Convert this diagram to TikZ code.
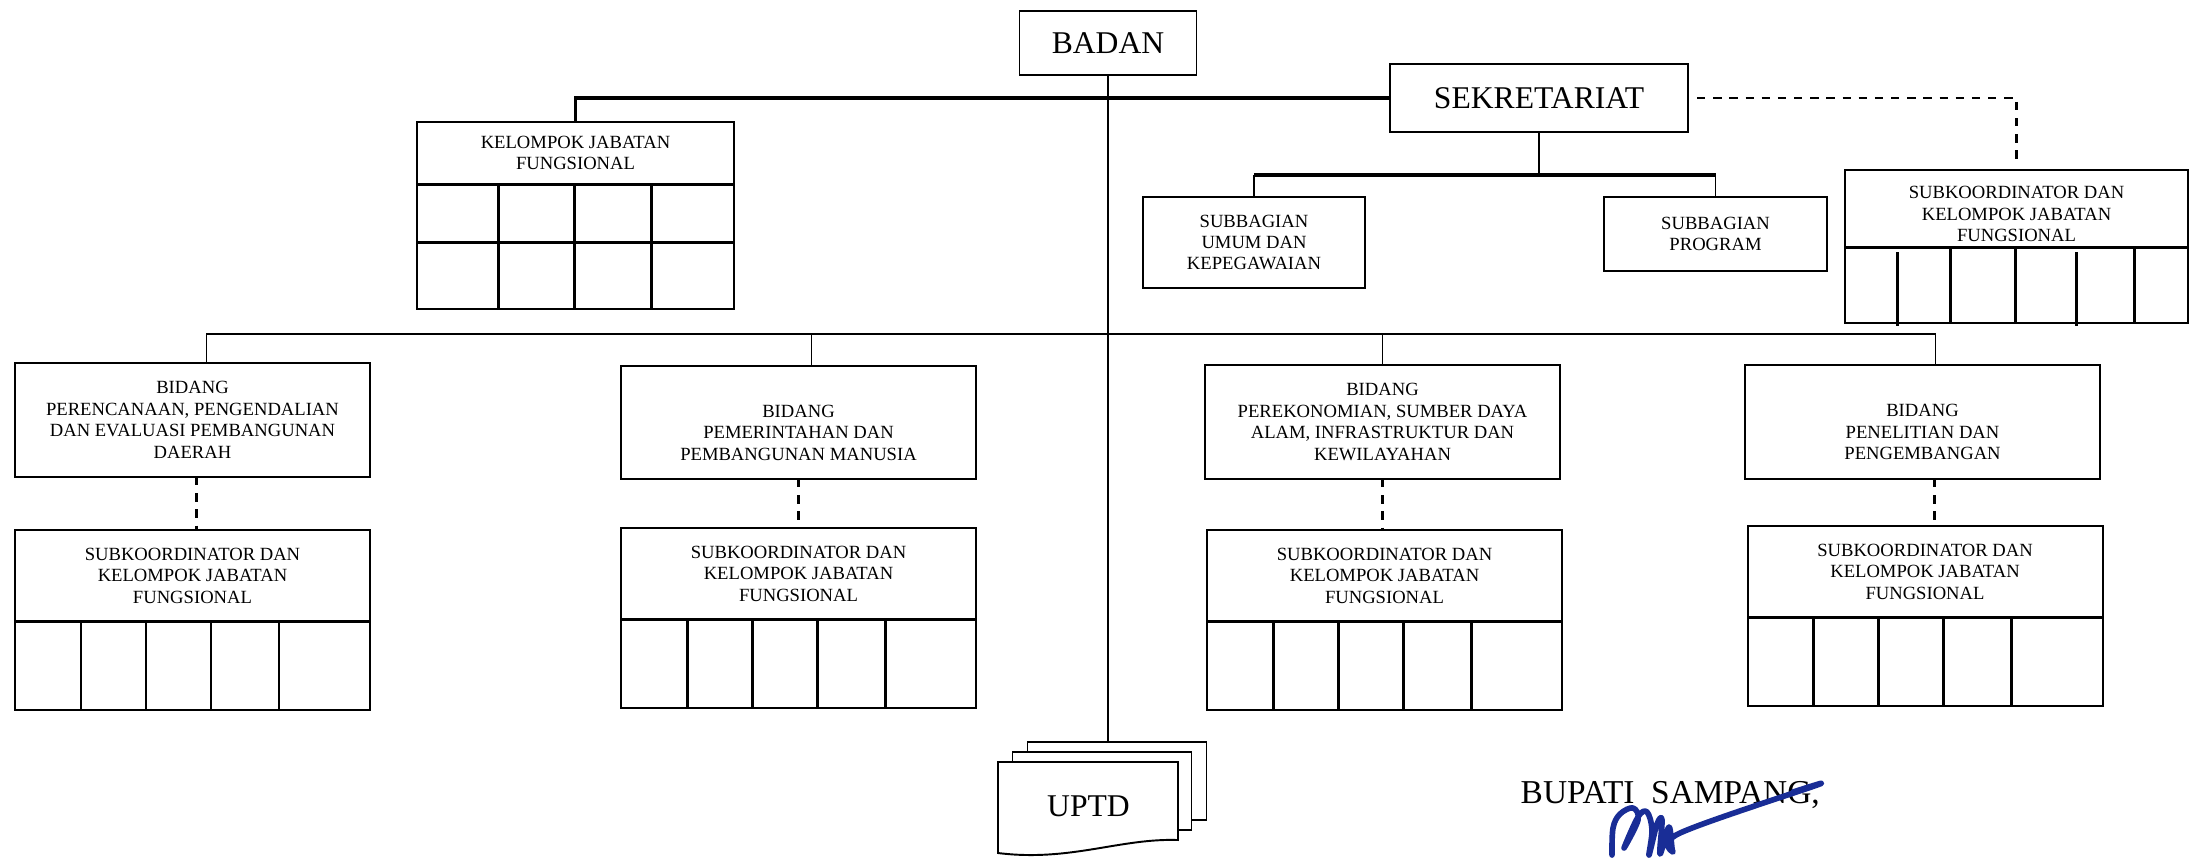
\documentclass[tikz,border=0pt]{standalone}
\usepackage{fontspec}
\setmainfont{Liberation Serif}
\usepackage{tikz}
\usetikzlibrary{positioning}
\definecolor{signblue}{RGB}{25,45,150}

\begin{document}
\begin{tikzpicture}[
    orgbox/.style={draw, line width=0.55pt, fill=white, inner sep=1pt, outer sep=0pt, align=center},
    bigbox/.style={orgbox, font=\fontsize{9}{11}\selectfont},
    unitbox/.style={orgbox, font=\fontsize{5.3}{6.1}\selectfont, minimum width=3.55cm},
    cellrow/.style={draw, line width=0.55pt, inner sep=0pt, outer sep=0pt},
    cellline/.style={line width=0.85pt},
    linkline/.style={line width=0.5pt},
    mainlink/.style={line width=1.1pt},
    dashlink/.style={line width=0.6pt, dash pattern=on 2.4pt off 2.2pt},
    pagebox/.style={draw, fill=white, line width=0.55pt, minimum width=1.79cm, minimum height=0.78cm, inner sep=0pt, outer sep=0pt},
    signline/.style={draw=signblue, line width=1.6pt, line cap=round, line join=round}
]
    \useasboundingbox (0,0) rectangle (21.98,-8.57);

    % Top level
    \node[bigbox, minimum width=1.77cm, minimum height=0.64cm] (badan) at (11.08,-0.43) {BADAN};
    \node[bigbox, minimum width=2.98cm, minimum height=0.68cm] (sek) at (15.39,-0.98) {SEKRETARIAT};

    % Sekretariat and its units
    \node[unitbox, minimum width=2.22cm, minimum height=0.91cm] (umum) at (12.54,-2.425) {SUBBAGIAN\\UMUM DAN\\KEPEGAWAIAN};
    \node[unitbox, minimum width=2.23cm, minimum height=0.74cm] (prog) at (17.155,-2.34) {SUBBAGIAN\\PROGRAM};
    \node[unitbox, minimum width=3.43cm, minimum height=0.77cm] (subsek) at (20.165,-2.085) {\rule{0pt}{0.24cm}SUBKOORDINATOR DAN\\KELOMPOK JABATAN\\FUNGSIONAL};
    \node[cellrow, minimum width=3.43cm, minimum height=0.76cm, below=0pt of subsek] (cellsek) {};

    % Kelompok jabatan fungsional
    \node[unitbox, minimum width=3.17cm, minimum height=0.62cm] (kjf) at (5.755,-1.53) {KELOMPOK JABATAN\\FUNGSIONAL};
    \node[cellrow, minimum width=3.17cm, minimum height=1.25cm, below=0pt of kjf] (cellkjf) {};

    % Bidang
    \node[unitbox, minimum height=1.14cm] (b1) at (1.925,-4.20) {BIDANG\\PERENCANAAN, PENGENDALIAN\\DAN EVALUASI PEMBANGUNAN\\DAERAH};
    \node[unitbox, minimum height=1.13cm] (b2) at (7.985,-4.225) {\rule{0pt}{0.33cm}BIDANG\\PEMERINTAHAN DAN\\PEMBANGUNAN MANUSIA};
    \node[unitbox, minimum height=1.14cm] (b3) at (13.825,-4.22) {BIDANG\\PEREKONOMIAN, SUMBER DAYA\\ALAM, INFRASTRUKTUR DAN\\KEWILAYAHAN};
    \node[unitbox, minimum height=1.14cm] (b4) at (19.225,-4.22) {\rule{0pt}{0.33cm}BIDANG\\PENELITIAN DAN\\PENGEMBANGAN};

    % Subkoordinator under each bidang
    \node[unitbox, minimum height=0.91cm] (s1) at (1.925,-5.755) {SUBKOORDINATOR DAN\\KELOMPOK JABATAN\\FUNGSIONAL};
    \node[unitbox, minimum height=0.91cm] (s2) at (7.985,-5.735) {SUBKOORDINATOR DAN\\KELOMPOK JABATAN\\FUNGSIONAL};
    \node[unitbox, minimum height=0.91cm] (s3) at (13.845,-5.755) {SUBKOORDINATOR DAN\\KELOMPOK JABATAN\\FUNGSIONAL};
    \node[unitbox, minimum height=0.91cm] (s4) at (19.25,-5.715) {SUBKOORDINATOR DAN\\KELOMPOK JABATAN\\FUNGSIONAL};
    \foreach \i in {1,...,4}
        \node[cellrow, minimum width=3.55cm, minimum height=0.89cm, below=0pt of s\i] (cells\i) {};

    % Cells
    \foreach \i in {1,...,4} {
        \draw[cellline] (cells\i.north west) -- (cells\i.north east);
        \foreach \d in {0.66,1.31,1.96,2.64}
            \draw[cellline] ([xshift=\d cm]cells\i.north west) -- ([xshift=\d cm]cells\i.south west);
    }
    \draw[cellline] (cellkjf.north west) -- (cellkjf.north east);
    \draw[cellline] ([yshift=-0.58cm]cellkjf.north west) -- ([yshift=-0.58cm]cellkjf.north east);
    \foreach \d in {0.81,1.57,2.34}
        \draw[cellline] ([xshift=\d cm]cellkjf.north west) -- ([xshift=\d cm]cellkjf.south west);
    \draw[cellline] (cellsek.north west) -- (cellsek.north east);
    \foreach \d in {1.05,1.70,2.89}
        \draw[cellline] ([xshift=\d cm]cellsek.north west) -- ([xshift=\d cm]cellsek.south west);
    \foreach \d in {0.52,2.31}
        \draw[cellline] ([xshift=\d cm, yshift=-0.05cm]cellsek.north west) -- ([xshift=\d cm, yshift=-0.03cm]cellsek.south west);

    % UPTD stack
    \node[pagebox] (back) at (11.17,-7.81) {};
    \node[pagebox] (mid) at (11.02,-7.91) {};
    \filldraw[fill=white, line width=0.55pt] (9.98,-7.62) -- (11.78,-7.62) -- (11.78,-8.40)
        .. controls (11.2,-8.38) and (10.7,-8.62) .. (9.98,-8.53) -- cycle;
    \node[font=\fontsize{9}{11}\selectfont] (uptd) at (10.885,-8.06) {UPTD};

    % Lines
    \draw[linkline] (badan.south) -- (badan.south |- back.north);
    \draw[mainlink] (sek.west) -| (kjf.north);
    \draw[linkline] (sek.south) -- ++(0,-0.43) coordinate (sekbus);
    \draw[mainlink] (umum.north |- sekbus) -- (prog.north |- sekbus);
    \draw[linkline] (umum.north) -- (umum.north |- sekbus);
    \draw[linkline] (prog.north) -- (prog.north |- sekbus);
    \draw[dashlink] ([xshift=0.09cm]sek.east) -| ([yshift=0.06cm]subsek.north);

    \coordinate (bidbus) at (11.09,-3.34);
    \draw[linkline] ([xshift=0.14cm]b1.north) |- ([xshift=0.13cm]b4.north |- bidbus) -- ([xshift=0.13cm]b4.north);
    \draw[linkline] ([xshift=0.13cm]b2.north) -- ([xshift=0.13cm]b2.north |- bidbus);
    \draw[linkline] (b3.north) -- (b3.north |- bidbus);
    \foreach \i/\dx in {1/0.04,2/0,3/0,4/0.12}
        \draw[dashlink] ([xshift=\dx cm]b\i.south) -- ([xshift=\dx cm]b\i.south |- s\i.north);

    % Signature
    \node[anchor=base west, font=\fontsize{9.5}{11}\selectfont, inner sep=0pt] (bupati) at (15.20,-8.03) {BUPATI\ \ SAMPANG,};
    \draw[signline] plot[smooth, tension=0.6] coordinates {(16.12,-8.55) (16.13,-8.28) (16.20,-8.14) (16.33,-8.08) (16.38,-8.20) (16.24,-8.48) (16.38,-8.17) (16.47,-8.12) (16.52,-8.30) (16.49,-8.55) (16.57,-8.24) (16.62,-8.20) (16.60,-8.54) (16.69,-8.27) (16.73,-8.52) (16.80,-8.33) (18.17,-7.85) (17.93,-7.92)};
\end{tikzpicture}
\end{document}
